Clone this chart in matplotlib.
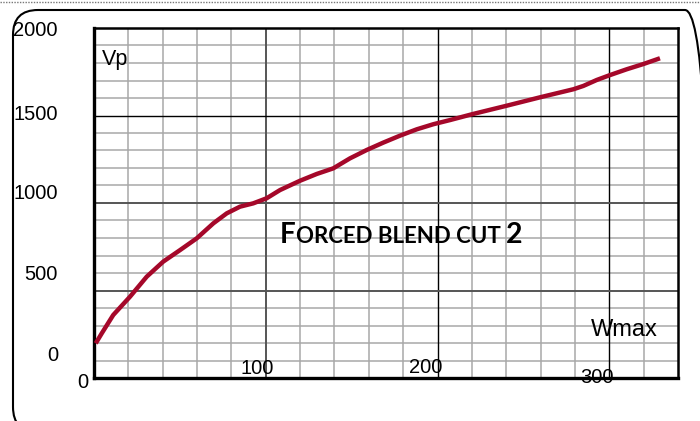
import matplotlib
matplotlib.use("Agg")
import matplotlib.pyplot as plt
from matplotlib.patches import FancyBboxPatch
from matplotlib.lines import Line2D

# Wmax -> Vp curve
wmax = [1.0, 4.5, 11.2, 21.0, 30.7, 40.3, 50.1, 59.8, 69.5, 77.3, 85.0, 92.7,
        100.5, 108.3, 119.9, 129.7, 139.3, 149.0, 158.8, 168.4, 178.2, 187.9,
        197.5, 207.3, 220.8, 240.3, 259.7, 279.1, 284.9, 292.7, 300.4, 310.1,
        319.8, 329.5]
vp = [198, 255, 360, 465, 579, 665, 731, 798, 884, 941, 979, 998,
      1027, 1074, 1127, 1166, 1198, 1255, 1303, 1345, 1385, 1421,
      1450, 1474, 1509, 1556, 1604, 1650, 1669, 1703, 1731, 1764,
      1794, 1827]

y_labels = ["0", "500", "1000", "1500", "2000"]
x_labels = ["0", "100", "200", "300"]
title_parts = ["F", "ORCED BLEND CUT", "2"]

# where the (slightly misaligned) labels sit, in data units
y_label_pos = [(-21, 97), (-21, 560), (-21, 1023), (-21, 1474), (-21, 1954)]
x_label_pos = [(-6.7, -57), (94.9, 23), (193.0, 29), (293.1, -29)]

RED = "#a5082a"

fig = plt.figure(figsize=(7.0, 4.21), dpi=100)
ax = fig.add_axes([94 / 700, 43 / 421, 584 / 700, 350 / 421])
ax.set_xlim(0, 340)
ax.set_ylim(0, 2000)

# grid
for x in range(20, 340, 20):
    if x % 100 == 0:
        continue
    ax.axvline(x, color="#a8a8a8", lw=1.1, zorder=1)
for y in range(100, 2000, 100):
    if y % 500 == 0:
        continue
    ax.axhline(y, color="#a8a8a8", lw=1.1, zorder=1)
ax.axvline(100, color="#555555", lw=1.4, zorder=2)
ax.axvline(200, color="black", lw=1.0, zorder=2)
ax.axvline(300, color="black", lw=1.0, zorder=2)
ax.axhline(1500, color="black", lw=1.0, zorder=2)
ax.axhline(1000, color="#555555", lw=1.4, zorder=2)
ax.axhline(500, color="#555555", lw=1.4, zorder=2)

ax.plot(wmax, vp, color=RED, lw=3.2, solid_capstyle="butt",
        solid_joinstyle="round", zorder=3)

ax.set_xticks([])
ax.set_yticks([])
for side in ["left", "bottom"]:
    ax.spines[side].set_linewidth(2.4)
for side in ["top", "right"]:
    ax.spines[side].set_linewidth(1.8)

lab_font = dict(family="Liberation Sans", fontsize=14.5, color="black", clip_on=False)
for lab, (x, y) in zip(y_labels, y_label_pos):
    ax.text(x, y, lab, ha="right", va="baseline", **lab_font)
for lab, (x, y) in zip(x_labels, x_label_pos):
    ax.text(x, y, lab, ha="center", va="baseline", **lab_font)

ax.text(4.7, 1789, "Vp", ha="left", va="baseline", family="Liberation Sans",
        fontsize=15.5)
ax.text(289.4, 240, "Wmax", ha="left", va="baseline", family="Liberation Sans",
        fontsize=17, zorder=4)

# small caps title
t1 = ax.text(108.3, 771, title_parts[0], ha="left", va="baseline",
             family="Lato", weight="bold", fontsize=20, zorder=4)
t2 = ax.annotate(title_parts[1], xy=(1, 0), xycoords=t1, xytext=(0.5, 1.0),
                 textcoords="offset points", ha="left", va="bottom",
                 family="Lato", weight="bold", fontsize=16, zorder=4)
t3 = ax.annotate(title_parts[2], xy=(1, 0), xycoords=t2, xytext=(3.5, -1.0),
                 textcoords="offset points", ha="left", va="bottom",
                 family="Lato", weight="bold", fontsize=20.5, zorder=4)

# rounded outer frame
frame = FancyBboxPatch((0.13, -0.11), 6.97, 4.22,
                       boxstyle="round,pad=0,rounding_size=0.25",
                       transform=fig.dpi_scale_trans, fill=False,
                       edgecolor="black", lw=1.5, clip_on=False)
fig.patches.append(frame)

# dotted border at the very top
fig.lines.append(Line2D([0, 1], [1 - 1.5 / 421, 1 - 1.5 / 421],
                        transform=fig.transFigure, color="#777777",
                        lw=1.0, ls=(0, (1, 1))))

fig.savefig("out.png", dpi=100)
